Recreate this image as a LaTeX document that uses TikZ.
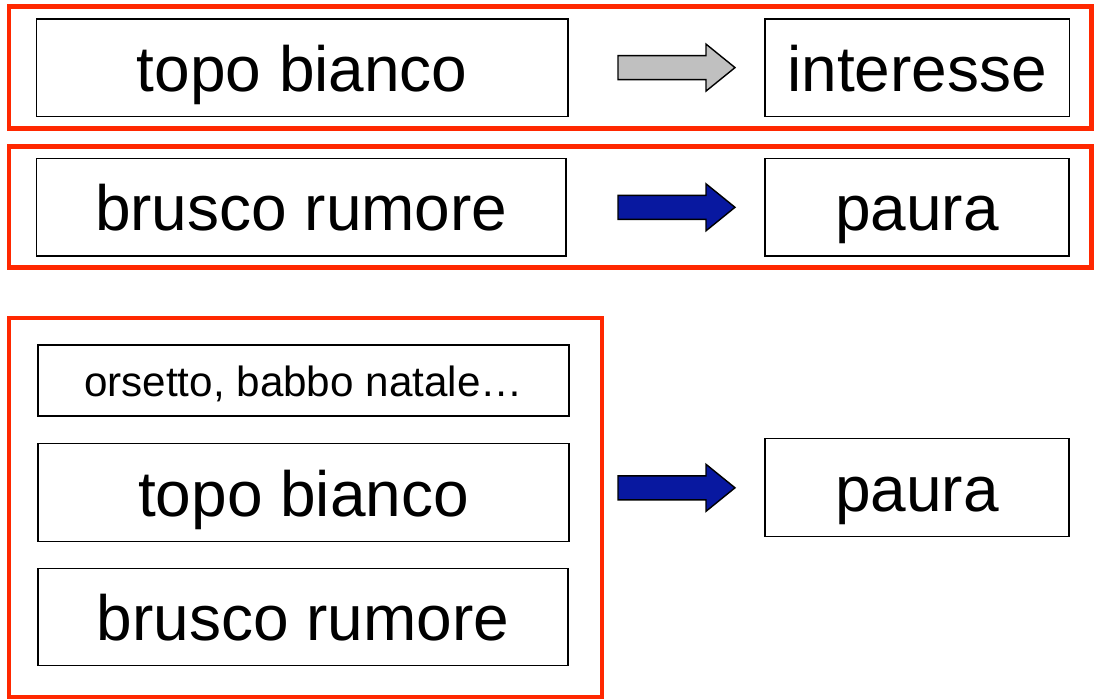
\documentclass[tikz,border=0pt]{standalone}
\usepackage{fontspec}
\setmainfont{Liberation Sans}
\usepackage{tikz}

\definecolor{framered}{RGB}{255,40,0}
\definecolor{arrowgray}{RGB}{192,192,192}
\definecolor{arrowblue}{RGB}{8,24,160}

\tikzset{
	frame/.style={draw=framered,line width=3.5pt},
	wordbox/.style={draw,line width=1pt,minimum height=97.5*0.025cm,inner sep=0pt,
		text height=1.175cm,text depth=0pt,
		font=\fontsize{45.5}{50}\selectfont},
	smallbox/.style={wordbox,minimum height=71*0.025cm,text height=0.775cm,
		font=\fontsize{30}{34}\selectfont},
	arrowline/.style={draw,line width=1pt,line join=miter}
}

% block arrow at height #2, filled with #1
\newcommand{\blockarrow}[2]{%
	\draw[arrowline,fill=#1] (618,#2-12) -- (706,#2-12) -- (706,#2-23.5) -- (735,#2)
	-- (706,#2+23.5) -- (706,#2+12) -- (618,#2+12) -- cycle;}

\begin{document}
\begin{tikzpicture}[x=0.025cm,y=-0.025cm]
	
	\useasboundingbox (0,0) rectangle (1094,699);
	
	% first row
	\draw[frame] (9,6.5) rectangle (1091.5,128.5);
	\node[wordbox,minimum width=531.5*0.025cm] (topoA) at (302.25,67.6) {topo bianco};
	\node[wordbox,minimum width=304.3*0.025cm] (interesse) at (917.15,67.6) {interesse};
	\blockarrow{arrowgray}{67.6}
	
	% second row
	\draw[frame] (9,146.5) rectangle (1091.5,267.5);
	\node[wordbox,minimum width=529.5*0.025cm] (bruscoA) at (301.25,207.3) {brusco rumore};
	\node[wordbox,minimum width=304*0.025cm] (pauraA) at (917,207.3) {paura};
	\blockarrow{arrowblue}{207.3}
	
	% generalisation
	\draw[frame] (9,318) rectangle (602,697);
	\node[smallbox,minimum width=531*0.025cm] (orsetto) at (303.5,380.5) {orsetto, babbo natale…};
	\node[wordbox,minimum width=531*0.025cm] (topoB) at (303.5,492.5) {topo bianco};
	\node[wordbox,minimum width=530*0.025cm] (bruscoB) at (303,617) {brusco rumore};
	\node[wordbox,minimum width=304*0.025cm] (pauraB) at (917,487.5) {paura};
	\blockarrow{arrowblue}{487.8}
	
\end{tikzpicture}
\end{document}
